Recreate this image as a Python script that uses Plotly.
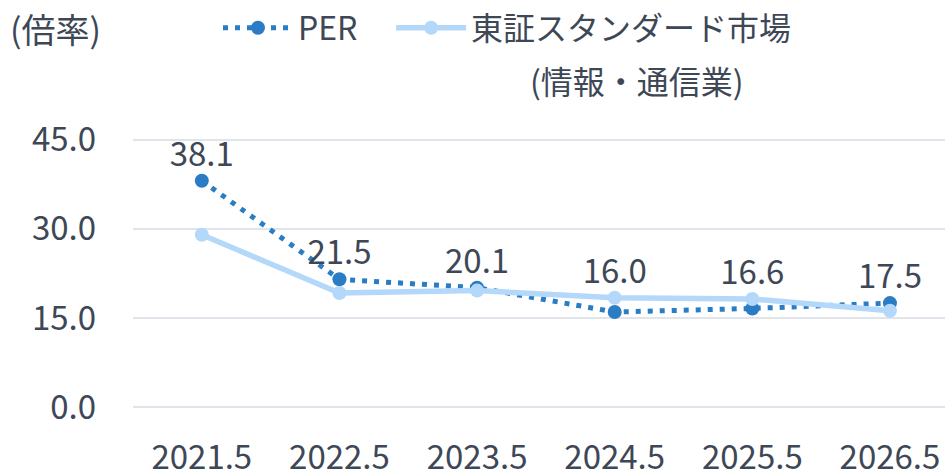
import plotly.graph_objects as go

categories = ["2021.5", "2022.5", "2023.5", "2024.5", "2025.5", "2026.5"]
per_values = [38.1, 21.5, 20.1, 16.0, 16.6, 17.5]
tse_values = [29.0, 19.2, 19.6, 18.4, 18.2, 16.2]
y_ticks = [0, 15, 30, 45]
y_tick_labels = ["0.0", "15.0", "30.0", "45.0"]

FONT = "Noto Sans CJK JP"
FS = 33
LFS = 32
TXT = "#3E4756"
PER_C = "#2A7DC4"
TSE_C = "#B3D8FA"

W, H = 945, 473
ML, MR, MT, MB = 133, 0, 110, 60
PW, PH = W - ML - MR, H - MT - MB

label_y = [max(a, b) for a, b in zip(per_values, tse_values)]

fig = go.Figure()
fig.add_trace(go.Scatter(
    x=categories, y=per_values, name="PER" + "\u00a0" * 4, mode="lines+markers",
    line=dict(color=PER_C, width=5, dash="5px,7px"),
    marker=dict(color=PER_C, size=14),
))
fig.add_trace(go.Scatter(
    x=categories, y=tse_values,
    name="東証スタンダード市場",
    mode="lines+markers",
    line=dict(color=TSE_C, width=5.5),
    marker=dict(color=TSE_C, size=14),
))
fig.add_trace(go.Scatter(
    x=categories, y=label_y, mode="markers+text",
    text=[f"{v:.1f}" for v in per_values],
    textposition="top center",
    marker=dict(size=9, color="rgba(0,0,0,0)"),
    textfont=dict(family=FONT, size=FS, color=TXT),
    showlegend=False, hoverinfo="skip", cliponaxis=False,
))

fig.update_layout(
    width=W, height=H,
    margin=dict(l=ML, r=MR, t=MT, b=MB, autoexpand=False),
    paper_bgcolor="white", plot_bgcolor="white",
    font=dict(family=FONT, size=FS, color=TXT),
    showlegend=True,
    legend=dict(
        orientation="h", xref="container", yref="container",
        x=218 / W, y=1 - 28 / H, xanchor="left", yanchor="middle",
        itemwidth=70,
        font=dict(family=FONT, size=LFS, color=TXT),
        bgcolor="rgba(0,0,0,0)",
    ),
    annotations=[
        dict(
            text="(倍率)", xref="paper", yref="paper",
            x=(8 - ML) / PW, y=(H - MB - 28) / PH,
            xanchor="left", yanchor="middle", showarrow=False,
            font=dict(family=FONT, size=34, color=TXT),
        ),
        dict(
            text="(情報・通信業)", xref="paper", yref="paper",
            x=(637 - ML) / PW, y=(H - MB - 80) / PH,
            xanchor="center", yanchor="middle", showarrow=False,
            font=dict(family=FONT, size=LFS, color=TXT),
        ),
    ],
)

fig.update_xaxes(
    type="category", range=[-0.5, 5.4], showgrid=False, showline=False,
    zeroline=False, ticks="", tickfont=dict(family=FONT, size=FS, color=TXT),
    ticklabelstandoff=22, automargin=False,
)
fig.update_yaxes(
    range=[-1, 50], tickvals=y_ticks, ticktext=y_tick_labels,
    showgrid=True, gridcolor="#E1E4EA", gridwidth=2, zeroline=False,
    showline=False, ticks="", tickfont=dict(family=FONT, size=FS, color=TXT),
    ticklabelstandoff=36, automargin=False,
)

fig.write_html("out.html", config={"displayModeBar": False},
               post_script="document.body.style.margin='0';")
